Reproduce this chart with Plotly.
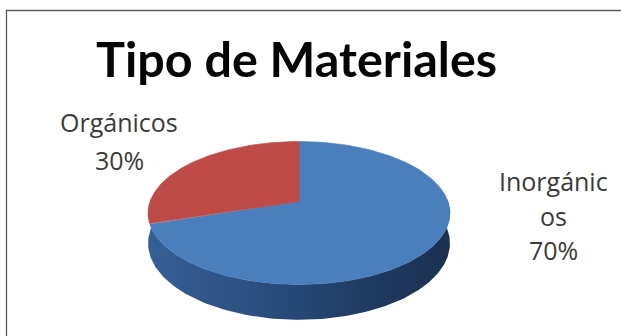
import numpy as np
import plotly.graph_objects as go

# Chart content
title = "Tipo de Materiales"
categories = ["Inorgánicos", "Orgánicos"]
shares = [70, 30]
label_lines = [["Inorgánic", "os"], ["Orgánicos"]]
slice_colors = ["#4a7ebc", "#be4b48"]

# Tilted-disc view of the pie, in the plot's own coordinates
CX, APEX_Y = 299.0, 201.5
SCALE_X, SCALE_Y, TILT = 149.0, 69.7, 0.161
DEPTH = 29.5


def project(angle, radius=1.0, drop=0.0):
    """Angle in degrees clockwise from twelve o'clock to a point on the tilted disc."""
    a = np.radians(angle)
    px = radius * np.sin(a)
    py = radius * np.cos(a)
    w = 1 + TILT * py
    return CX + SCALE_X * px / w, APEX_Y - SCALE_Y * py / w + drop / w


fig = go.Figure()

# Outer wall of the disc, visible along the near half
arc = np.linspace(88, 272, 181)
top_x, top_y = project(arc)
low_x, low_y = project(arc, drop=DEPTH)
fig.add_trace(go.Scatter(
    x=np.r_[low_x, top_x[::-1]],
    y=np.r_[low_y, top_y[::-1]],
    mode="lines", line=dict(width=0), fill="toself",
    fillgradient=dict(
        type="horizontal",
        colorscale=[[0, "#365f95"], [0.4, "#2a4d7e"], [0.7, "#1f3c64"], [1, "#1b3150"]],
    ),
    hoverinfo="skip", showlegend=False,
))

# Top faces: each slice spans its share of the full turn, running from twelve o'clock
start = 0.0
for share, color in zip(shares, slice_colors):
    sweep = 360.0 * share / sum(shares)
    angles = np.linspace(start, start + sweep, 241)
    ex, ey = project(angles)
    fig.add_trace(go.Scatter(
        x=np.r_[CX, ex, CX], y=np.r_[APEX_Y, ey, APEX_Y],
        mode="lines", line=dict(width=0.6, color=color), fill="toself",
        fillcolor=color, hoverinfo="skip", showlegend=False,
    ))
    start += sweep

TITLE_FONT = "Lato, 'Open Sans', sans-serif"
LABEL_FONT = "'Open Sans', Lato, sans-serif"
INK = "#3a3a3a"


def put_text(x, y, text, size, family=LABEL_FONT, color=INK, bold=False):
    shown = f"<b>{text}</b>" if bold else text
    fig.add_annotation(x=x, y=y, xref="x", yref="y", text=shown, showarrow=False,
                       xanchor="center", yanchor="middle",
                       font=dict(family=family, size=size, color=color))


put_text(296, 58, title, 48.5, family=TITLE_FONT, color="#050505", bold=True)

# Data labels, one text per line
put_text(553, 181, label_lines[0][0], 25)
put_text(553, 216, label_lines[0][1], 25)
put_text(553, 250, f"{shares[0]}%", 25)
put_text(119, 122, label_lines[1][0], 25)
put_text(119, 160, f"{shares[1]}%", 25)

# Frame running off the right and bottom of the page
fig.add_shape(type="rect", x0=6.5, y0=10.5, x1=660, y1=380, xref="x", yref="y",
              line=dict(color="#5a5a5a", width=1.3), layer="below")

fig.update_xaxes(range=[0, 621], visible=False, fixedrange=True)
fig.update_yaxes(range=[336, 0], visible=False, fixedrange=True)
fig.update_layout(width=621, height=336, margin=dict(l=0, r=0, t=0, b=0),
                  paper_bgcolor="white", plot_bgcolor="white", showlegend=False)

fig.write_html("out.html", config=dict(displayModeBar=False))
